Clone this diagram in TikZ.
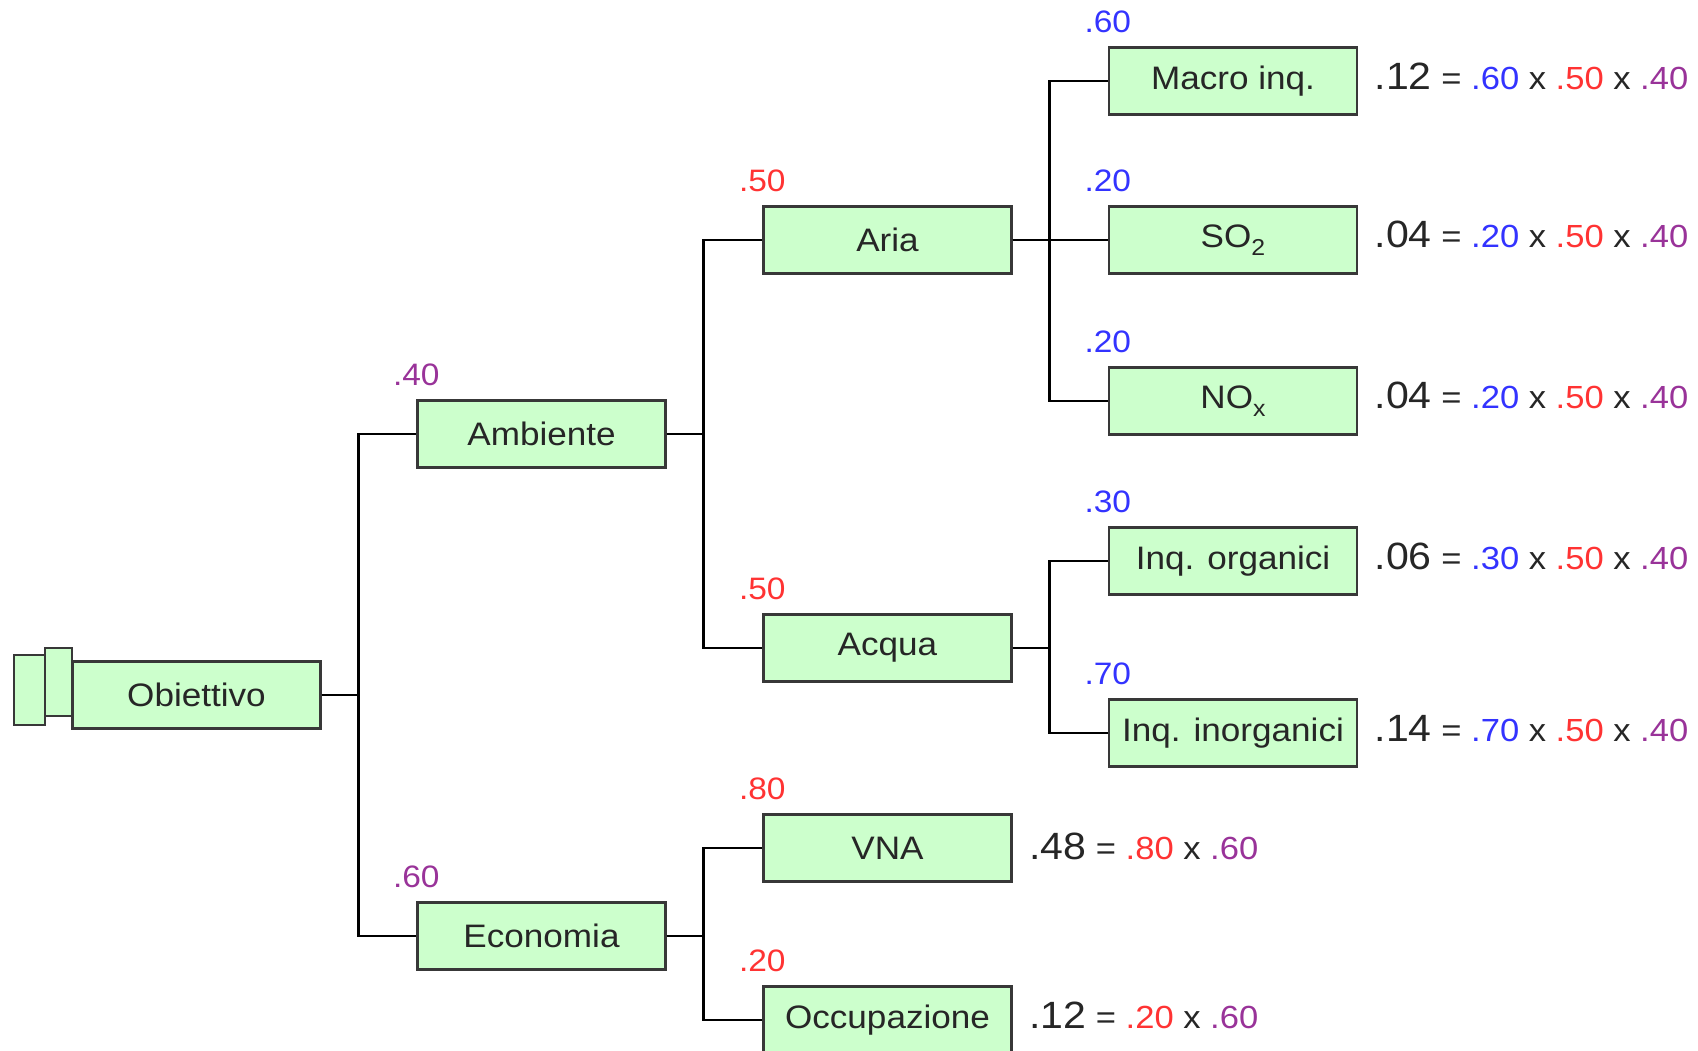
\documentclass[tikz,border=0pt]{standalone}
\usepackage{fontspec}
\setmainfont{Liberation Sans}[FakeStretch=1.08]
\definecolor{boxfill}{HTML}{CCFFCC}
\definecolor{boxline}{HTML}{383838}
\definecolor{lvone}{HTML}{993399}
\definecolor{lvtwo}{HTML}{FF3333}
\definecolor{lvthree}{HTML}{3333FF}
\newcommand{\gw}[1]{{\fontsize{38}{42}\selectfont #1}}
\newcommand{\sub}[1]{\raisebox{-8pt}{\fontsize{23}{23}\selectfont #1}}

\begin{document}
\begin{tikzpicture}[x=1pt,y=-1pt,
  box/.style={draw=boxline,line width=2.4pt,fill=boxfill,minimum width=248pt,
    minimum height=67pt,inner sep=0pt,text=black!85,font=\fontsize{32.5}{38}\selectfont},
  back/.style={draw=boxline,line width=2.4pt,fill=boxfill},
  conn/.style={line width=2.8pt},
  wt/.style={anchor=base,yshift=14pt,font=\fontsize{31}{36}\selectfont},
  res/.style={anchor=base west,xshift=13pt,text=black!85,font=\fontsize{32}{36}\selectfont}]
  \useasboundingbox (0,0) rectangle (1698,1050);

  % stacked boxes behind the goal
  \draw[back] (14,655) rectangle (45,725);
  \draw[back] (45,648) rectangle (72,716);

  % tree
  \node[box] (obj) at (196.5,695) {Obiettivo};
  \node[box] (amb) at (541.5,434) {Ambiente};
  \node[box] (eco) at (541.5,936) {Economia};
  \node[box] (aria) at (887.5,240) {Aria};
  \node[box] (acqua) at (887.5,648) {Acqua};
  \node[box] (vna) at (887.5,848) {VNA};
  \node[box] (occ) at (887.5,1020) {Occupazione};
  \node[box] (macro) at (1233,81) {Macro inq.};
  \node[box] (so2) at (1233,240) {SO\sub{2}};
  \node[box] (nox) at (1233,401) {NO\sub{x}};
  \node[box] (org) at (1233,561) {Inq. organici};
  \node[box] (inorg) at (1233,733) {Inq. inorganici};

  \foreach \p/\c in {obj/amb,obj/eco,amb/aria,amb/acqua,eco/vna,eco/occ,
    aria/macro,aria/so2,aria/nox,acqua/org,acqua/inorg}
    \draw[conn] (\p.east) -- ++(37,0) |- (\c.west);

  % weights
  \node[wt,text=lvone] at (amb.north west) {.40};
  \node[wt,text=lvone] at (eco.north west) {.60};
  \node[wt,text=lvtwo] at (aria.north west) {.50};
  \node[wt,text=lvtwo] at (acqua.north west) {.50};
  \node[wt,text=lvtwo] at (vna.north west) {.80};
  \node[wt,text=lvtwo] at (occ.north west) {.20};
  \node[wt,text=lvthree] at (macro.north west) {.60};
  \node[wt,text=lvthree] at (so2.north west) {.20};
  \node[wt,text=lvthree] at (nox.north west) {.20};
  \node[wt,text=lvthree] at (org.north west) {.30};
  \node[wt,text=lvthree] at (inorg.north west) {.70};

  % global weights
  \node[res] at (macro.base east) {\gw{.12} = \textcolor{lvthree}{.60} x \textcolor{lvtwo}{.50} x \textcolor{lvone}{.40}};
  \node[res] at (so2.base east) {\gw{.04} = \textcolor{lvthree}{.20} x \textcolor{lvtwo}{.50} x \textcolor{lvone}{.40}};
  \node[res] at (nox.base east) {\gw{.04} = \textcolor{lvthree}{.20} x \textcolor{lvtwo}{.50} x \textcolor{lvone}{.40}};
  \node[res] at (org.base east) {\gw{.06} = \textcolor{lvthree}{.30} x \textcolor{lvtwo}{.50} x \textcolor{lvone}{.40}};
  \node[res] at (inorg.base east) {\gw{.14} = \textcolor{lvthree}{.70} x \textcolor{lvtwo}{.50} x \textcolor{lvone}{.40}};
  \node[res] at (vna.base east) {\gw{.48} = \textcolor{lvtwo}{.80} x \textcolor{lvone}{.60}};
  \node[res] at (occ.base east) {\gw{.12} = \textcolor{lvtwo}{.20} x \textcolor{lvone}{.60}};
\end{tikzpicture}
\end{document}
